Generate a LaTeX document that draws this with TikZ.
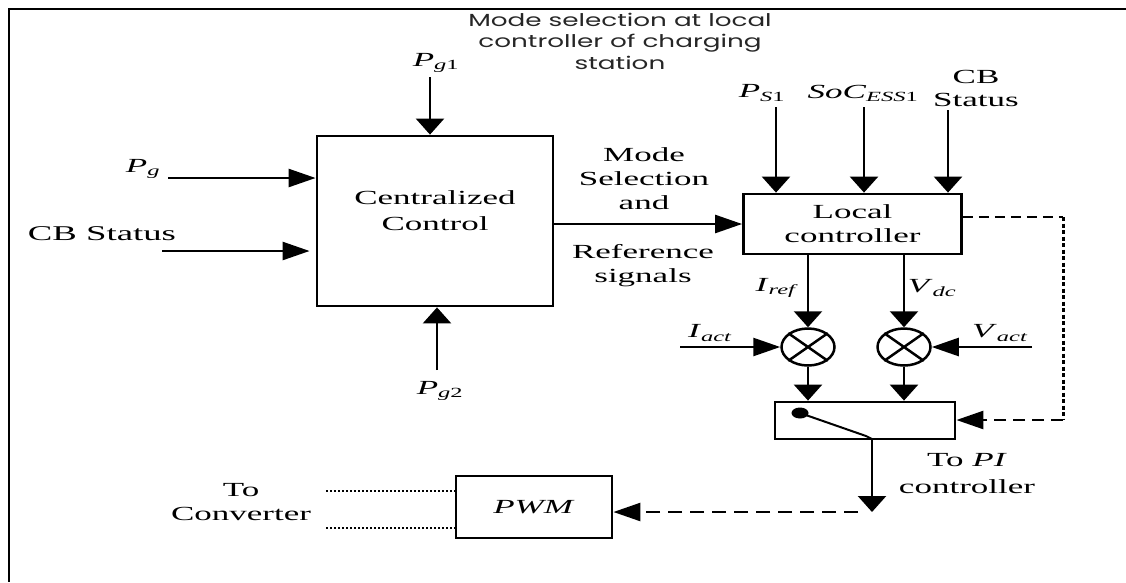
\documentclass[tikz,border=0pt]{standalone}
\usepackage{fontspec}
\setmainfont[FakeStretch=1.75]{Liberation Serif}
\newfontfamily\modefont[FakeStretch=1.5]{Poppins}
\usetikzlibrary{arrows.meta,shapes.geometric,calc}
\newcommand{\sv}[2]{\textit{#1}\textsubscript{#2}}
\begin{document}
\begin{tikzpicture}[x=1pt,y=-1pt,font=\fontsize{20}{24}\selectfont,
  box/.style={draw,line width=2.8pt,inner sep=0pt},
  ln/.style={line width=2.5pt},
  harr/.style={ln,-{Triangle[length=27pt,width=18pt]}},
  varr/.style={ln,-{Triangle[length=16pt,width=28pt]}},
  sumnode/.style={draw,ellipse,line width=2.5pt,minimum width=53pt,minimum height=37pt,inner sep=0pt},
  lbl/.style={align=center,inner sep=1pt}]
\useasboundingbox (0,0) rectangle (1126,582);
% frame
\draw[line width=2.5pt] (1126,9) -- (9,9) -- (9,582);
% header text
\node[lbl,font=\modefont\fontsize{17.5}{21.5}\selectfont,text=black!85] (modesel) at (620,41) {Mode selection at local\\controller of charging\\station};
% centralized control
\node[box,minimum width=236pt,minimum height=170pt] (central) at (435,221) {};
\node[lbl,font=\fontsize{20}{26}\selectfont] (centraltext) at (435,211) {Centralized\\Control};
% inputs to central
\node[lbl] (pg1) at (436,63) {\sv{P}{\textit{g}1}};
\coordinate (pg1s) at (430,77);
\draw[varr] (pg1s) -- (pg1s |- central.north);
\node[lbl] (pg) at (143,169) {\sv{P}{\textit{g}}};
\coordinate (pgs) at (168,178);
\draw[harr] (pgs) -- (pgs -| central.west);
\node[lbl,font=\fontsize{21}{24}\selectfont] (cbs) at (102,234) {CB Status};
\coordinate (cbss) at (162,251);
\draw[harr,shorten >=6pt] (cbss) -- (cbss -| central.west);
\coordinate (pg2s) at (437,370);
\draw[varr] (pg2s) -- (pg2s |- central.south);
\node[lbl] (pg2) at (440,391) {\sv{P}{\textit{g}2}};
% local controller
\node[box,minimum width=218pt,minimum height=60pt,align=center] (local) at (852.5,224) {Local\\controller};
\draw[harr] (central.east |- local.west) -- (local.west);
\node[lbl] (modetxt) at (644,179) {Mode\\Selection\\and};
\node[lbl] (reftxt) at (643,266) {Reference\\signals};
% inputs to local
\node[lbl] (ps1) at (762,93) {\sv{P}{\textit{S}1}};
\node[lbl] (soc) at (863,93) {\sv{SoC}{\textit{ESS}1}};
\node[lbl,font=\fontsize{20}{23}\selectfont] (cbl) at (976,88) {CB\\Status};
\coordinate (ps1s) at (776,107);
\coordinate (socs) at (864,107);
\coordinate (cbls) at (948,110);
\draw[varr] (ps1s) -- (ps1s |- local.north);
\draw[varr] (socs) -- (socs |- local.north);
\draw[varr] (cbls) -- (cbls |- local.north);
% summing junctions
\node[sumnode] (m1) at (808,347) {};
\node[sumnode] (m2) at (904,347) {};
\draw[ln] (m1.35) -- (m1.215) (m1.145) -- (m1.325);
\draw[ln] (m2.35) -- (m2.215) (m2.145) -- (m2.325);
\draw[varr] (local.south -| m1) -- (m1.north);
\draw[varr] (local.south -| m2) -- (m2.north);
\node[lbl] (iref) at (777,288) {\sv{I}{\textit{ref}}};
\node[lbl] (vdc) at (932,288) {\sv{V}{\textit{dc}}};
\coordinate (iacts) at (680,347);
\coordinate (vacts) at (1032,347);
\draw[harr] (iacts) -- (m1.west);
\draw[harr] (vacts) -- (m2.east);
\node[lbl] (iact) at (710,333) {\sv{I}{\textit{act}}};
\node[lbl] (vact) at (1000,333) {\sv{V}{\textit{act}}};
% switch block
\node[box,minimum width=180pt,minimum height=37pt] (switch) at (865,420.5) {};
\draw[varr] (m1.south) -- (m1.south |- switch.north);
\draw[varr] (m2.south) -- (m2.south |- switch.north);
\node[fill,ellipse,minimum width=17pt,minimum height=11pt,inner sep=0pt] (dot) at (800,413) {};
\coordinate (swk) at (866,436);
\coordinate (swout) at (872,439);
\draw[line width=2pt] (dot.center) -- (swk) -- (swout);
\coordinate (outtip) at (872,512);
\draw[varr] (swout) -- (outtip);
\node[lbl] (topi) at (967,474) {To \textit{PI}\\[3pt]controller};
% feedback dashed
\coordinate (fb1) at (1063,217);
\coordinate (fb2) at (1063,420);
\draw[ln,dash pattern=on 10pt off 6pt] (local.east |- fb1) -- (fb1);
\draw[line width=3pt,dash pattern=on 4pt off 2.5pt] (fb1) -- (fb2);
\draw[harr,dash pattern=on 12pt off 7pt] (fb2) -- (switch.east |- fb2);
% PWM
\node[box,minimum width=156pt,minimum height=62pt] (pwm) at (534,507) {\textit{PWM}};
\draw[harr,dash pattern=on 14pt off 8pt,shorten <=14pt] (outtip) -- (pwm.east |- outtip);
\coordinate (d1) at (326,491);
\coordinate (d2) at (326,528);
\draw[line width=1.6pt,dash pattern=on 2pt off 2pt] (d1) -- (d1 -| pwm.west);
\draw[line width=1.6pt,dash pattern=on 2pt off 2pt] (d2) -- (d2 -| pwm.west);
\node[lbl] (tocon) at (241,502) {To\\Converter};
\end{tikzpicture}
\end{document}
